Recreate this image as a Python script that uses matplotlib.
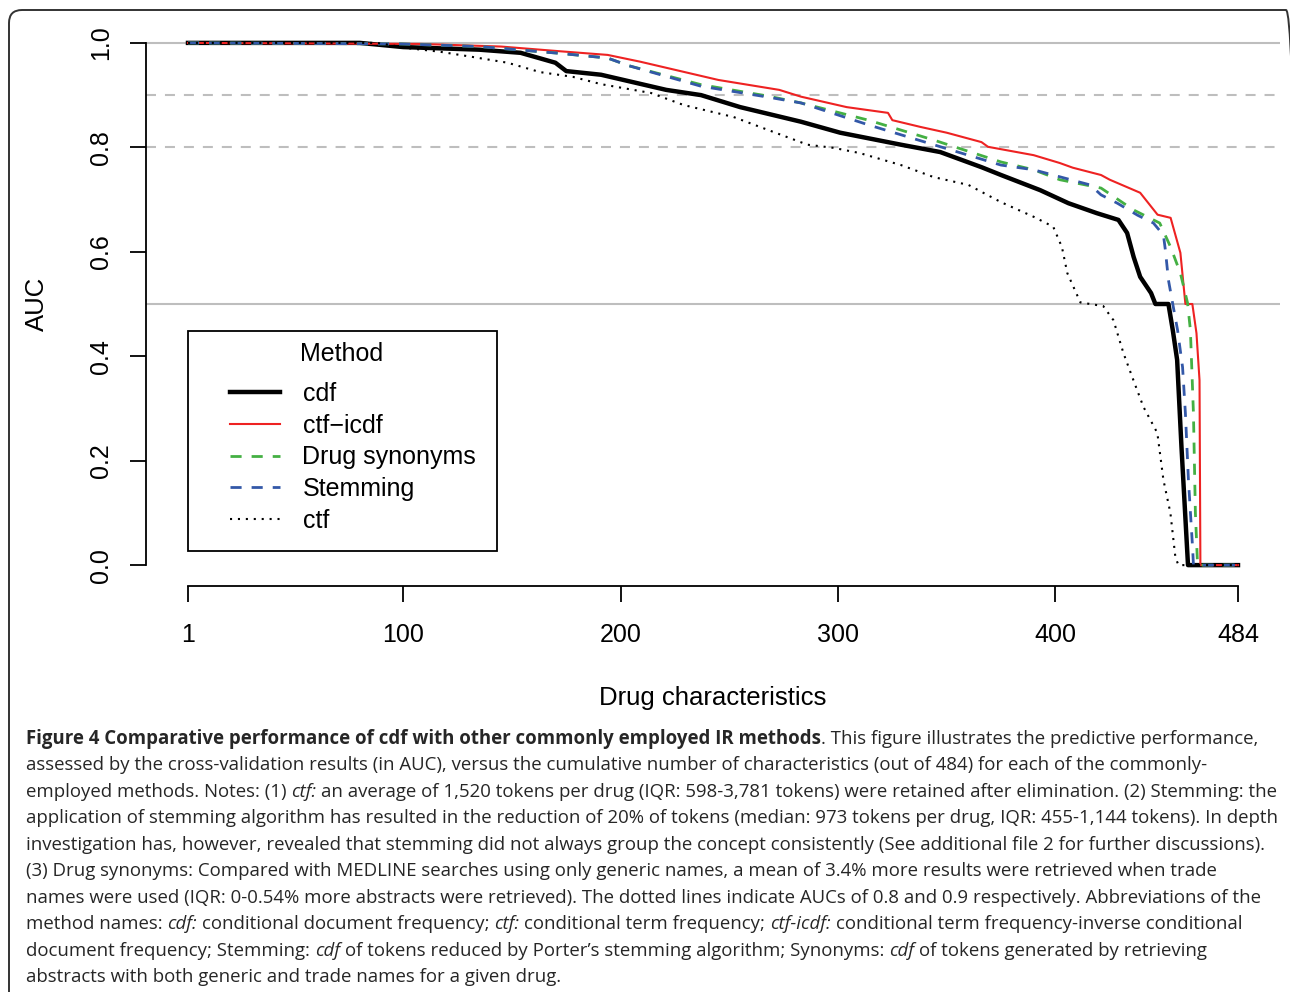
import matplotlib
matplotlib.use("Agg")
import matplotlib.pyplot as plt
from matplotlib.lines import Line2D
from matplotlib.patches import Rectangle, FancyBboxPatch

# values (x = drug characteristic rank, y = AUC)
cdf_x = [1, 80, 100, 135, 154, 170, 175, 191, 221, 237, 255, 283, 301, 329, 347, 366,
         375, 393, 406, 419, 429, 433, 436, 439, 444, 446, 452, 454, 456, 458, 461, 484]
cdf_y = [1.0, 1.0, 0.992, 0.987, 0.981, 0.962, 0.946, 0.939, 0.910, 0.900, 0.877, 0.849,
         0.828, 0.805, 0.791, 0.762, 0.747, 0.718, 0.693, 0.674, 0.661, 0.636, 0.590,
         0.552, 0.521, 0.500, 0.500, 0.450, 0.393, 0.226, 0.0, 0.0]

ctficdf_x = [1, 108, 145, 172, 194, 209, 245, 273, 283, 304, 323, 325, 338, 350, 366, 369,
             390, 402, 408, 421, 425, 439, 447, 453, 457.5, 459.8, 463, 464.9, 466.3, 466.7, 484]
ctficdf_y = [1.0, 0.998, 0.993, 0.984, 0.977, 0.964, 0.929, 0.910, 0.897, 0.877, 0.866,
             0.852, 0.839, 0.828, 0.810, 0.801, 0.785, 0.770, 0.761, 0.747, 0.738, 0.713,
             0.671, 0.665, 0.598, 0.500, 0.500, 0.444, 0.354, 0.0, 0.0]

syn_x = [1, 99, 135, 172, 194, 204, 237, 268, 283, 314, 344, 375, 390, 402, 421, 436,
         448, 453, 457.5, 460.8, 462.1, 463.5, 464.4, 465.4, 484]
syn_y = [1.0, 0.998, 0.993, 0.980, 0.971, 0.956, 0.920, 0.898, 0.885, 0.852, 0.814, 0.772,
         0.757, 0.738, 0.722, 0.680, 0.655, 0.609, 0.559, 0.502, 0.450, 0.291, 0.100, 0.0, 0.0]

stem_x = [1, 99, 135, 172, 194, 204, 237, 268, 283, 314, 344, 375, 390, 416, 421, 428.5,
          437.8, 445.1, 449.7, 450.6, 452, 453.9, 456.2, 458.5, 459.8, 461.2, 463.1, 463.5, 484]
stem_y = [1.0, 0.998, 0.993, 0.980, 0.971, 0.956, 0.917, 0.896, 0.885, 0.843, 0.805, 0.766,
          0.757, 0.728, 0.709, 0.693, 0.670, 0.655, 0.632, 0.603, 0.546, 0.502, 0.450,
          0.379, 0.291, 0.163, 0.034, 0.0, 0.0]

ctf_x = [1, 88, 102, 117, 132, 148, 163, 178, 191, 214, 229, 252, 268, 286, 298, 310, 329,
         344, 360, 375, 390, 399, 403, 405.5, 411.5, 422, 426.7, 431.3, 435.9, 440.5, 446.9,
         449.7, 452.9, 455.2, 456.6, 484]
ctf_y = [1.0, 1.0, 0.990, 0.983, 0.973, 0.962, 0.944, 0.935, 0.921, 0.904, 0.881, 0.858,
         0.833, 0.805, 0.799, 0.789, 0.766, 0.743, 0.728, 0.695, 0.667, 0.648, 0.609, 0.559,
         0.503, 0.496, 0.469, 0.406, 0.354, 0.303, 0.253, 0.163, 0.100, 0.015, 0.0, 0.0]

x_ticks = [1, 100, 200, 300, 400, 484]
y_ticks = [0.0, 0.2, 0.4, 0.6, 0.8, 1.0]
ref_solid = [1.0, 0.5]
ref_dashed = [0.9, 0.8]

W, H = 1290, 992
PLOT_FONT = "Liberation Sans"
CAP_FONT = "Open Sans"
CAP_SIZE = 13.4
CAP_COLOR = "#262626"

fig = plt.figure(figsize=(W / 100, H / 100), dpi=100)
fig.patch.set_facecolor("white")

# outer rounded frame
frame = FancyBboxPatch((0.09, -0.3), 12.9, 10.12, boxstyle="round,pad=0,rounding_size=0.13",
                       transform=fig.dpi_scale_trans, fill=False, edgecolor="#333333",
                       linewidth=1.4, clip_on=False)
fig.patches.append(frame)

ax = fig.add_axes([146 / W, 1 - 586 / H, 1134 / W, 564 / H])
ax.set_xlim(1 - 0.04 * 483, 484 + 0.04 * 483)
ax.set_ylim(-0.04, 1.04)

for v in ref_solid:
    ax.axhline(v, color="#bebebe", lw=1.5, zorder=1)
for v in ref_dashed:
    ax.axhline(v, color="#bebebe", lw=1.5, dashes=(4.8, 4.3), zorder=1)

styles = {
    "cdf": dict(color="black", lw=3.2),
    "ctf\u2212icdf": dict(color="#ee2222", lw=1.5),
    "Drug synonyms": dict(color="#44b043", lw=2.0, dashes=(4, 3.6)),
    "Stemming": dict(color="#3358a8", lw=2.0, dashes=(4, 3.6)),
    "ctf": dict(color="black", lw=1.5, dashes=(1, 2.8)),
}
series = [("cdf", cdf_x, cdf_y), ("ctf\u2212icdf", ctficdf_x, ctficdf_y),
          ("Drug synonyms", syn_x, syn_y), ("Stemming", stem_x, stem_y), ("ctf", ctf_x, ctf_y)]
handles = []
for name, xs, ys in series:
    ax.plot(xs, ys, zorder=3, **styles[name])
    handles.append(Line2D([], [], **styles[name]))

for side in ["top", "right"]:
    ax.spines[side].set_visible(False)
ax.spines["left"].set_bounds(0, 1)
ax.spines["bottom"].set_bounds(1, 484)
for side in ["left", "bottom"]:
    ax.spines[side].set_linewidth(1.3)
ax.set_xticks(x_ticks)
ax.set_yticks(y_ticks)
ax.set_xticklabels([str(t) for t in x_ticks], fontfamily=PLOT_FONT, fontsize=18)
ax.set_yticklabels([f"{t:.1f}" for t in y_ticks], fontfamily=PLOT_FONT, fontsize=18,
                   rotation=90, va="center")
ax.tick_params(axis="both", length=11.5, width=1.3, direction="out")
ax.tick_params(axis="x", pad=15)
ax.tick_params(axis="y", pad=12)

fig.text(713 / W, 1 - 698 / H, "Drug characteristics", fontfamily=PLOT_FONT, fontsize=18.5,
         ha="center", va="center")
fig.text(37 / W, 1 - 304 / H, "AUC", fontfamily=PLOT_FONT, fontsize=18.5, rotation=90,
         ha="center", va="center")

# legend: entries from matplotlib, box and title drawn like R's legend()
ax.legend(handles, [s[0] for s in series], loc="upper left",
          bbox_to_anchor=(230 / W, 1 - 382 / H), bbox_transform=fig.transFigure,
          frameon=False, borderpad=0, borderaxespad=0, handlelength=2.0,
          handletextpad=0.9, labelspacing=0.31, prop=dict(family=PLOT_FONT, size=18))
fig.patches.append(Rectangle((188 / W, 1 - 551 / H), 309 / W, 220 / H, transform=fig.transFigure,
                             fill=False, edgecolor="black", linewidth=1.3))
fig.text(342 / W, 1 - 354 / H, "Method", fontfamily=PLOT_FONT, fontsize=18, ha="center",
         va="center")

# caption, one line at a time with mixed styles
caption = [
    [("Figure 4 Comparative performance of cdf with other commonly employed IR methods", "b"),
     (". This figure illustrates the predictive performance,", "n")],
    [("assessed by the cross-validation results (in AUC), versus the cumulative number of "
      "characteristics (out of 484) for each of the commonly-", "n")],
    [("employed methods. Notes: (1) ", "n"), ("ctf:", "i"),
     (" an average of 1,520 tokens per drug (IQR: 598-3,781 tokens) were retained after "
      "elimination. (2) Stemming: the", "n")],
    [("application of stemming algorithm has resulted in the reduction of 20% of tokens "
      "(median: 973 tokens per drug, IQR: 455-1,144 tokens). In depth", "n")],
    [("investigation has, however, revealed that stemming did not always group the concept "
      "consistently (See additional file 2 for further discussions).", "n")],
    [("(3) Drug synonyms: Compared with MEDLINE searches using only generic names, a mean of "
      "3.4% more results were retrieved when trade", "n")],
    [("names were used (IQR: 0-0.54% more abstracts were retrieved). The dotted lines indicate "
      "AUCs of 0.8 and 0.9 respectively. Abbreviations of the", "n")],
    [("method names: ", "n"), ("cdf:", "i"), (" conditional document frequency; ", "n"),
     ("ctf:", "i"), (" conditional term frequency; ", "n"), ("ctf-icdf:", "i"),
     (" conditional term frequency-inverse conditional", "n")],
    [("document frequency; Stemming: ", "n"), ("cdf", "i"),
     (" of tokens reduced by Porter\u2019s stemming algorithm; Synonyms: ", "n"), ("cdf", "i"),
     (" of tokens generated by retrieving", "n")],
    [("abstracts with both generic and trade names for a given drug.", "n")],
]

renderer = fig.canvas.get_renderer()


def text_width(s, **kw):
    t = fig.text(0, 0, s, fontfamily=CAP_FONT, fontsize=CAP_SIZE, **kw)
    w = t.get_window_extent(renderer).width
    t.remove()
    return w


space_w = text_width("a a") - text_width("aa")
for i, line in enumerate(caption):
    x = 26.0
    y = 744 + i * 26.45
    for txt, st in line:
        kw = {}
        if st == "b":
            kw["fontweight"] = "bold"
        elif st == "i":
            kw["fontstyle"] = "italic"
        if txt.startswith(" "):
            x += space_w
        body = txt.strip()
        t = fig.text(x / W, 1 - y / H, body, fontfamily=CAP_FONT, fontsize=CAP_SIZE,
                     color=CAP_COLOR, va="baseline", ha="left", **kw)
        x += t.get_window_extent(renderer).width
        if txt.endswith(" "):
            x += space_w

fig.savefig("out.png", dpi=100)
